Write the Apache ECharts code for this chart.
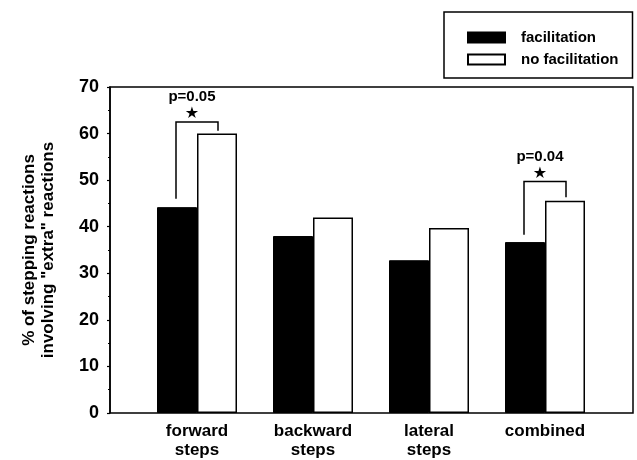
<!DOCTYPE html>
<html>
<head>
<meta charset="utf-8">
<script src="https://cdn.jsdelivr.net/npm/echarts@6/dist/echarts.min.js"></script>
<style>html,body{margin:0;padding:0;background:#fff;}#c{width:637px;height:460px;}</style>
</head>
<body>
<div id="c"></div>
<script>
var categories = ['forward\nsteps', 'backward\nsteps', 'lateral\nsteps', 'combined'];
var facilitation = [44.2, 38.0, 32.8, 36.7];
var noFacilitation = [60.0, 42.0, 39.7, 45.6];
var seriesNames = ['facilitation', 'no facilitation'];
var yMin = 0, yMax = 70, yStep = 10;
// [category index, left leg bottom, right leg bottom, bracket top, label]
var brackets = [
  [0, 46.0, 60.6, 62.5, 'p=0.05'],
  [3, 38.3, 46.3, 49.7, 'p=0.04']
];
var yTitle = '% of stepping reactions\ninvolving "extra" reactions';

var FONT = '"Liberation Sans", Arial, Helvetica, sans-serif';
var chart = echarts.init(document.getElementById('c'), null, {renderer: 'canvas'});

chart.setOption({
  animation: false,
  backgroundColor: '#fff',
  legend: {
    orient: 'vertical',
    left: 444, top: 12,
    padding: [17, 14, 10, 23],
    itemWidth: 37, itemHeight: 10, itemGap: 5,
    borderColor: '#000', borderWidth: 1.5,
    icon: 'rect',
    data: seriesNames,
    textStyle: {fontFamily: FONT, fontWeight: 'bold', fontSize: 15, lineHeight: 17, color: '#000', padding: [0, 0, 0, 11]}
  },
  grid: [
    {left: 139, top: 87, width: 464, height: 326},
    {left: 110, top: 87, width: 523, height: 326, show: true, borderColor: '#000', borderWidth: 1.5, backgroundColor: 'transparent'}
  ],
  xAxis: [
    {type: 'category', gridIndex: 0, data: categories,
     axisLine: {show: false}, axisTick: {show: false},
     axisLabel: {fontFamily: FONT, fontWeight: 'bold', fontSize: 17, lineHeight: 19, color: '#000', margin: 9}},
    {type: 'value', gridIndex: 1, show: false, min: 0, max: 1}
  ],
  yAxis: [
    {type: 'value', gridIndex: 0, min: yMin, max: yMax, interval: yStep, offset: 29,
     axisLine: {show: true, lineStyle: {color: '#000', width: 1.5}},
     axisTick: {show: true, length: 3, lineStyle: {color: '#000', width: 1.2}},
     minorTick: {show: true, splitNumber: 2, length: 2, lineStyle: {color: '#000', width: 1}},
     splitLine: {show: false},
     axisLabel: {fontFamily: FONT, fontWeight: 'bold', fontSize: 18, color: '#000', margin: 11},
     name: yTitle, nameLocation: 'middle', nameRotate: 90, nameGap: 52,
     nameTextStyle: {fontFamily: FONT, fontWeight: 'bold', fontSize: 17, lineHeight: 19, color: '#000'}},
    {type: 'value', gridIndex: 1, show: false, min: yMin, max: yMax}
  ],
  series: [
    {name: seriesNames[0], type: 'bar', xAxisIndex: 0, yAxisIndex: 0, data: facilitation,
     barWidth: 40, barGap: '0%',
     itemStyle: {color: '#000', borderColor: '#000', borderWidth: 1}},
    {name: seriesNames[1], type: 'bar', xAxisIndex: 0, yAxisIndex: 0, data: noFacilitation,
     barWidth: 40, barGap: '0%',
     itemStyle: {color: '#fff', borderColor: '#000', borderWidth: 1.5}},
    {type: 'custom', xAxisIndex: 0, yAxisIndex: 0, data: brackets, z: 10,
     renderItem: function (params, api) {
       var cat = api.value(0);
       var pl = api.coord([cat, api.value(1)]);
       var pr = api.coord([cat, api.value(2)]);
       var pt = api.coord([cat, api.value(3)]);
       var cx = pt[0];
       var xl = cx - 21, xr = cx + 21;
       var label = brackets[params.dataIndex][4];
       return {type: 'group', children: [
         {type: 'polyline', shape: {points: [[xl, pl[1]], [xl, pt[1]], [xr, pt[1]], [xr, pr[1]]]},
          style: {stroke: '#000', lineWidth: 1.5, fill: null}},
         {type: 'text', style: {text: '★', x: cx - 5, y: pt[1] - 8, align: 'center', verticalAlign: 'middle',
          fontFamily: '"DejaVu Sans", sans-serif', fontSize: 16, fill: '#000'}},
         {type: 'text', style: {text: label, x: cx - 5, y: pt[1] - 25, align: 'center', verticalAlign: 'middle',
          fontFamily: FONT, fontWeight: 'bold', fontSize: 15, fill: '#000'}}
       ]};
     }}
  ]
});
</script>
</body>
</html>
